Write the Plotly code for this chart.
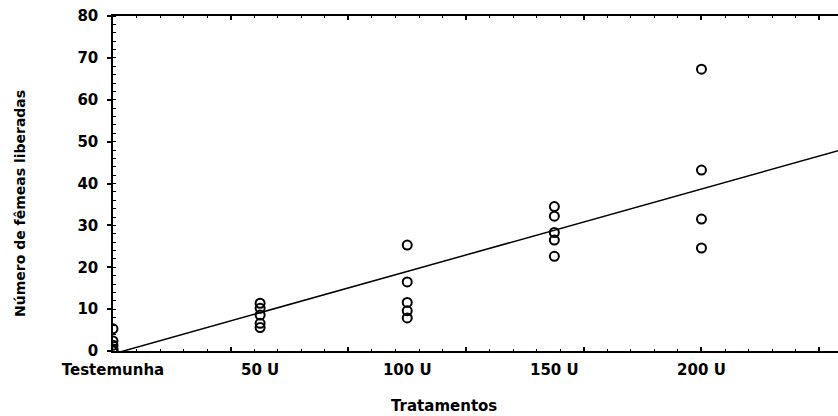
import plotly.graph_objects as go

# Data
tratamento_x = [0, 50, 100, 150, 200]
tratamento_labels = ["Testemunha", "50 U", "100 U", "150 U", "200 U"]

x_test = [0, 0, 0, 0, 0]
y_test = [5.3, 2.4, 1.4, 0.5, 0.0]
x_50 = [50, 50, 50, 50, 50]
y_50 = [11.4, 10.2, 8.6, 6.6, 5.6]
x_100 = [100, 100, 100, 100, 100]
y_100 = [25.3, 16.5, 11.6, 9.6, 7.9]
x_150 = [150, 150, 150, 150, 150]
y_150 = [34.5, 32.2, 28.3, 26.5, 22.6]
x_200 = [200, 200, 200, 200]
y_200 = [67.3, 43.2, 31.5, 24.6]

# Fitted regression line coefficients
fit_intercept = -0.7
fit_slope = 0.197
fit_x = [0, 250]
fit_y = [fit_intercept + fit_slope * v for v in fit_x]

xs = x_test + x_50 + x_100 + x_150 + x_200
ys = y_test + y_50 + y_100 + y_150 + y_200

FONT = "DejaVu Sans"
XR = [0, 246.4]

fig = go.Figure()
fig.add_trace(go.Scatter(
    x=fit_x, y=fit_y, mode="lines",
    line=dict(color="black", width=1.5), showlegend=False, hoverinfo="skip"))
fig.add_trace(go.Scatter(
    x=xs, y=ys, mode="markers",
    marker=dict(symbol="circle-open", size=9, color="black", line=dict(width=2)),
    showlegend=False, cliponaxis=True))
# invisible trace so the label axis is drawn
fig.add_trace(go.Scatter(
    x=tratamento_x, y=[None] * len(tratamento_x), xaxis="x2", yaxis="y",
    mode="markers", showlegend=False, hoverinfo="skip"))

fig.update_layout(
    width=838, height=416,
    margin=dict(l=113, r=0, t=16, b=65),
    paper_bgcolor="white", plot_bgcolor="white",
    font=dict(family=FONT, color="black", size=15),
    xaxis=dict(
        range=XR, showgrid=False, zeroline=False,
        showline=True, linecolor="black", linewidth=1.5, mirror="allticks",
        tick0=0, dtick=40, ticks="inside", ticklen=4, tickwidth=1.5, tickcolor="black",
        showticklabels=False,
        minor=dict(dtick=8, tick0=0, ticks="inside", ticklen=2, tickwidth=1.2, tickcolor="black"),
    ),
    xaxis2=dict(
        range=XR, overlaying="x", anchor="y", side="bottom",
        showgrid=False, zeroline=False, showline=False, ticks="",
        tickmode="array", tickvals=tratamento_x, ticktext=tratamento_labels,
        tickfont=dict(family=FONT, size=15, color="black", weight="bold"),
        ticklabelstandoff=8,
    ),
    yaxis=dict(
        range=[0, 80], showgrid=False, zeroline=False,
        showline=True, linecolor="black", linewidth=1.5,
        tick0=0, dtick=10, ticks="outside", ticklen=4, tickwidth=1.5, tickcolor="black",
        tickfont=dict(family=FONT, size=15, color="black", weight="bold"),
        ticklabelstandoff=6,
        minor=dict(dtick=2, tick0=0, ticks="inside", ticklen=3, tickwidth=1.2, tickcolor="black"),
    ),
    annotations=[
        dict(text="<b>Tratamentos</b>", xref="paper", yref="paper",
             x=(444 - 113) / 725, y=(351 - 406) / 335, showarrow=False,
             xanchor="center", yanchor="middle",
             font=dict(family=FONT, size=15, color="black")),
        dict(text="<b>Número de fêmeas liberadas</b>", xref="paper", yref="paper",
             x=(20 - 113) / 725, y=(351 - 204) / 335, showarrow=False, textangle=-90,
             xanchor="center", yanchor="middle",
             font=dict(family=FONT, size=14, color="black")),
    ],
)

fig.write_html("out.html")
